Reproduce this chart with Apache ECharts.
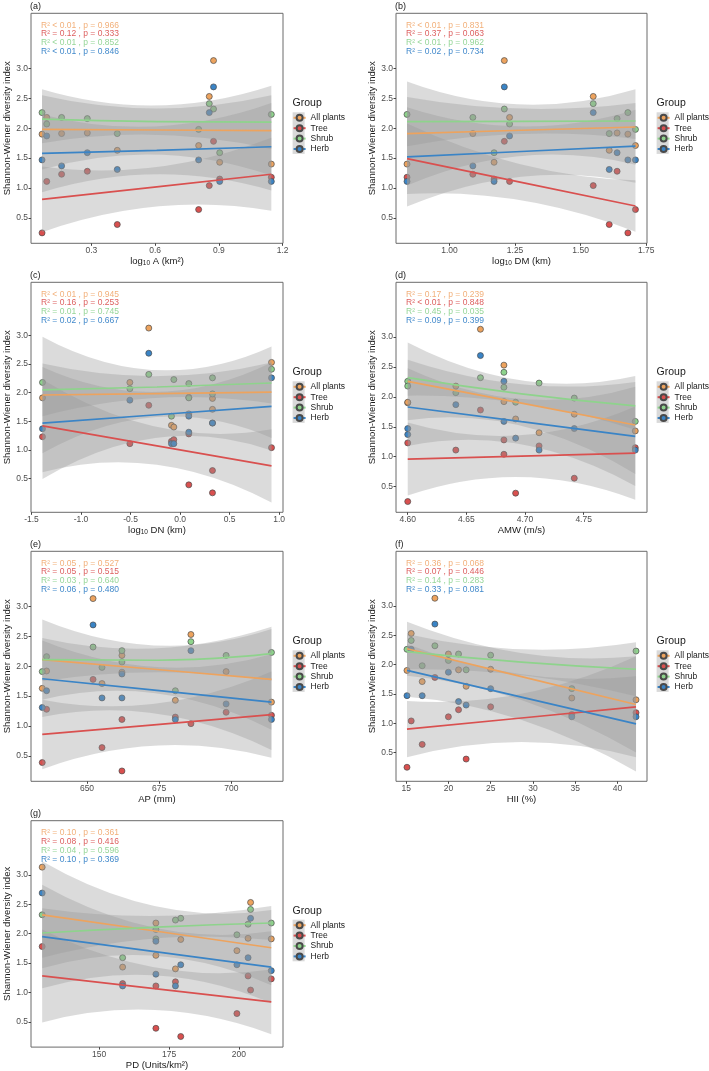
<!DOCTYPE html>
<html>
<head>
<meta charset="utf-8">
<script src="https://cdn.jsdelivr.net/npm/echarts@6/dist/echarts.min.js"></script>
<style>
  html, body { margin: 0; padding: 0; background: #fff; }
  #chart { width: 709px; height: 1071px; }
</style>
</head>
<body>
<div id="chart"></div>
<script>
// groups, in the order ggplot draws them
const groups = ['All plants', 'Tree', 'Shrub', 'Herb']
const groupColors = ['#EDA35E', '#D9504F', '#8ED38C', '#3A84C6']
const statColors = ['#F2B07A', '#DD5F5F', '#96D698', '#4189CB']

// Shannon-Wiener index of the 10 sites (same sites in every panel)
const allPlants = [1.90, 2.18, 1.91, 1.92, 1.63, 1.71, 2.53, 3.13, 1.43, 1.40]
const tree = [0.25, 1.11, 1.23, 1.28, 0.39, 0.64, 1.04, 1.78, 1.15, 1.18]
const shrub = [2.26, 2.07, 2.18, 2.16, 1.91, 1.98, 2.41, 2.32, 1.59, 2.23]
const herb = [1.47, 1.87, 1.37, 1.59, 1.31, 1.47, 2.26, 2.69, 1.11, 1.11]

// predictor value of each site, one array per panel
const xA = [0.068, 0.090, 0.160, 0.281, 0.422, 0.805, 0.855, 0.875, 0.904, 1.147]
const xB = [1.680, 1.229, 1.089, 1.639, 1.609, 1.709, 1.548, 1.209, 1.170, 0.838]
const xC = [0.327, -0.507, -1.389, 0.088, 0.088, 0.327, 0.923, -0.316, -0.087, -0.063]
const xD = [4.600, 4.641, 4.600, 4.682, 4.692, 4.742, 4.682, 4.662, 4.794, 4.712]
const xE = [662.1, 662.1, 698.2, 636.0, 634.5, 655.2, 686.0, 652.1, 680.6, 713.9]
const xF = [15.1, 20.0, 21.2, 25.0, 22.1, 16.9, 15.6, 18.4, 34.6, 42.2]
const xG = [179.2, 170.3, 211.6, 203.3, 170.3, 199.3, 204.2, 129.6, 158.4, 177.3]

// fitted line, lower and upper band at left / middle / right of the data range
// rows: All plants, Tree, Shrub, Herb
const fitA = [[1.98, 1.97, 1.96], [0.81, 1.02, 1.23], [2.15, 2.11, 2.10], [1.58, 1.63, 1.69]]
const loA = [[1.31, 1.56, 1.21], [0.26, 0.69, 0.62], [1.75, 1.89, 1.65], [0.93, 1.23, 0.96]]
const hiA = [[2.65, 2.38, 2.71], [1.36, 1.35, 1.84], [2.55, 2.33, 2.55], [2.23, 2.03, 2.42]]

const fitB = [[1.91, 1.965, 2.02], [1.49, 1.095, 0.70], [2.11, 2.115, 2.12], [1.52, 1.61, 1.70]]
const loB = [[1.04, 1.535, 1.39], [0.90, 0.795, 0.27], [1.70, 1.905, 1.82], [0.69, 1.19, 1.09]]
const hiB = [[2.78, 2.395, 2.65], [2.08, 1.395, 1.13], [2.52, 2.325, 2.42], [2.35, 2.03, 2.31]]

const fitC = [[1.96, 1.985, 2.01], [1.42, 1.07, 0.72], [2.05, 2.10, 2.17], [1.47, 1.615, 1.76]]
const loC = [[0.94, 1.575, 1.21], [0.61, 0.74, 0.08], [1.59, 1.91, 1.81], [0.49, 1.215, 0.99]]
const hiC = [[2.98, 2.395, 2.81], [2.23, 1.40, 1.36], [2.51, 2.29, 2.53], [2.45, 2.015, 2.53]]

const fitD = [[2.26, 1.895, 1.53], [0.96, 1.01, 1.06], [2.32, 2.05, 1.85], [1.83, 1.585, 1.34]]
const loD = [[1.61, 1.515, 0.71], [0.35, 0.66, 0.28], [2.02, 1.89, 1.45], [1.18, 1.205, 0.51]]
const hiD = [[2.91, 2.275, 2.35], [1.57, 1.36, 1.84], [2.62, 2.21, 2.25], [2.48, 1.965, 2.17]]

const fitE = [[2.11, 1.945, 1.78], [0.86, 1.025, 1.19], [2.11, 2.10, 2.21], [1.79, 1.595, 1.40]]
const loE = [[1.44, 1.545, 0.94], [0.28, 0.675, 0.47], [1.75, 1.90, 1.76], [1.15, 1.205, 0.60]]
const hiE = [[2.78, 2.345, 2.62], [1.44, 1.375, 1.91], [2.47, 2.30, 2.66], [2.43, 1.985, 2.20]]

const fitF = [[2.27, 1.795, 1.32], [0.90, 1.09, 1.28], [2.22, 2.04, 1.92], [1.90, 1.445, 0.99]]
const loF = [[1.81, 1.395, 0.50], [0.42, 0.68, 0.42], [1.92, 1.82, 1.46], [1.45, 1.055, 0.18]]
const hiF = [[2.73, 2.195, 2.14], [1.38, 1.50, 2.14], [2.52, 2.26, 2.38], [2.35, 1.835, 1.80]]

const fitG = [[2.32, 2.04, 1.76], [1.28, 1.06, 0.84], [2.01, 2.11, 2.18], [1.95, 1.69, 1.43]]
const loG = [[1.41, 1.62, 1.12], [0.49, 0.70, 0.29], [1.59, 1.92, 1.89], [1.07, 1.29, 0.82]]
const hiG = [[3.23, 2.46, 2.40], [2.07, 1.42, 1.39], [2.43, 2.30, 2.47], [2.83, 2.09, 2.04]]

// R2 / p labels
const statA = ['R² < 0.01 , p = 0.966', 'R² = 0.12 , p = 0.333', 'R² < 0.01 , p = 0.852', 'R² < 0.01 , p = 0.846']
const statB = ['R² < 0.01 , p = 0.831', 'R² = 0.37 , p = 0.063', 'R² < 0.01 , p = 0.962', 'R² = 0.02 , p = 0.734']
const statC = ['R² < 0.01 , p = 0.945', 'R² = 0.16 , p = 0.253', 'R² = 0.01 , p = 0.745', 'R² = 0.02 , p = 0.667']
const statD = ['R² = 0.17 , p = 0.239', 'R² < 0.01 , p = 0.848', 'R² = 0.45 , p = 0.035', 'R² = 0.09 , p = 0.399']
const statE = ['R² = 0.05 , p = 0.527', 'R² = 0.05 , p = 0.515', 'R² = 0.03 , p = 0.640', 'R² = 0.06 , p = 0.480']
const statF = ['R² = 0.36 , p = 0.068', 'R² = 0.07 , p = 0.446', 'R² = 0.14 , p = 0.283', 'R² = 0.33 , p = 0.081']
const statG = ['R² = 0.10 , p = 0.361', 'R² = 0.08 , p = 0.416', 'R² = 0.04 , p = 0.596', 'R² = 0.10 , p = 0.369']

// tick labels
const yTicks = [0.5, 1.0, 1.5, 2.0, 2.5, 3.0]
const ticksA = [0.3, 0.6, 0.9, 1.2]
const ticksB = [1.00, 1.25, 1.50, 1.75]
const ticksC = [-1.5, -1.0, -0.5, 0.0, 0.5, 1.0]
const ticksD = [4.60, 4.65, 4.70, 4.75]
const ticksE = [650, 675, 700]
const ticksF = [15, 20, 25, 30, 35, 40]
const ticksG = [150, 175, 200]

const siteValues = [allPlants, tree, shrub, herb]
const font = 'Liberation Sans, Arial, Helvetica, sans-serif'

const panels = [
  { tag: '(a)', x: xA, fit: fitA, lo: loA, hi: hiA, stat: statA, ticks: ticksA, dec: 1, name: 'log{s|10} A (km²)', xMin: 0.016, xMax: 1.202, yMin: 0.076, yMax: 3.92 },
  { tag: '(b)', x: xB, fit: fitB, lo: loB, hi: hiB, stat: statB, ticks: ticksB, dec: 2, name: 'log{s|10} DM (km)', xMin: 0.796, xMax: 1.753, yMin: 0.076, yMax: 3.92 },
  { tag: '(c)', x: xC, fit: fitC, lo: loC, hi: hiC, stat: statC, ticks: ticksC, dec: 1, name: 'log{s|10} DN (km)', xMin: -1.505, xMax: 1.039, yMin: -0.09, yMax: 3.93 },
  { tag: '(d)', x: xD, fit: fitD, lo: loD, hi: hiD, stat: statD, ticks: ticksD, dec: 2, name: 'AMW (m/s)', xMin: 4.590, xMax: 4.804, yMin: 0.07, yMax: 3.915 },
  { tag: '(e)', x: xE, fit: fitE, lo: loE, hi: hiE, stat: statE, ticks: ticksE, dec: 0, name: 'AP (mm)', xMin: 630.6, xMax: 717.9, yMin: 0.077, yMax: 3.92 },
  { tag: '(f)', x: xF, fit: fitF, lo: loF, hi: hiF, stat: statF, ticks: ticksF, dec: 0, name: 'HII (%)', xMin: 13.8, xMax: 43.5, yMin: 0.011, yMax: 3.93 },
  { tag: '(g)', x: xG, fit: fitG, lo: loG, hi: hiG, stat: statG, ticks: ticksG, dec: 0, name: 'PD (Units/km²)', xMin: 125.6, xMax: 215.8, yMin: 0.07, yMax: 3.92 }
]

const colLeft = [31, 396]
const colWidth = [252, 251]
const rowTop = [13.3, 282.3, 551.3, 820.7]
const boxHeight = 230

function bandRenderer(fx, lo, hi) {
  return function (params, api) {
    if (params.dataIndex !== 0) return null
    const up = fx.map((x, k) => api.coord([x, hi[k]]))
    const dn = fx.map((x, k) => api.coord([x, lo[k]]))
    const ctrl = (a, m, b) => [2 * m[0] - (a[0] + b[0]) / 2, 2 * m[1] - (a[1] + b[1]) / 2]
    const cu = ctrl(up[0], up[1], up[2])
    const cd = ctrl(dn[2], dn[1], dn[0])
    const d = 'M' + up[0][0] + ',' + up[0][1] +
      ' Q' + cu[0] + ',' + cu[1] + ' ' + up[2][0] + ',' + up[2][1] +
      ' L' + dn[2][0] + ',' + dn[2][1] +
      ' Q' + cd[0] + ',' + cd[1] + ' ' + dn[0][0] + ',' + dn[0][1] + ' Z'
    return { type: 'path', shape: { pathData: d }, style: { fill: 'rgba(153,153,153,0.35)' } }
  }
}

const grid = []
const xAxis = []
const yAxis = []
const series = []
const legend = []
const graphic = []

panels.forEach((p, i) => {
  const left = colLeft[i % 2]
  const width = colWidth[i % 2]
  const top = rowTop[Math.floor(i / 2)]

  grid.push({ left: left, top: top, width: width, height: boxHeight, show: true, borderColor: '#6b6b6b', borderWidth: 1, backgroundColor: '#fff' })

  xAxis.push({
    type: 'value', gridIndex: i, min: p.xMin, max: p.xMax,
    axisLine: { show: false, onZero: false }, splitLine: { show: false },
    axisTick: { show: true, length: 2.5, customValues: p.ticks, lineStyle: { color: '#444' } },
    axisLabel: { customValues: p.ticks, margin: 3, fontSize: 8.5, fontFamily: font, color: '#4d4d4d', formatter: v => v.toFixed(p.dec) },
    name: p.name, nameLocation: 'middle', nameGap: 11,
    nameTextStyle: { fontSize: 9.5, fontFamily: font, color: '#1a1a1a', rich: { s: { fontSize: 6.5, fontFamily: font, color: '#1a1a1a', padding: [5, 0, 0, 0] } } }
  })

  yAxis.push({
    type: 'value', gridIndex: i, min: p.yMin, max: p.yMax,
    axisLine: { show: false, onZero: false }, splitLine: { show: false },
    axisTick: { show: true, length: 2.5, customValues: yTicks, lineStyle: { color: '#444' } },
    axisLabel: { customValues: yTicks, margin: 3, fontSize: 8.5, fontFamily: font, color: '#4d4d4d', formatter: v => v.toFixed(1) },
    name: 'Shannon-Wiener diversity index', nameLocation: 'middle', nameGap: 19,
    nameTextStyle: { fontSize: 9.5, fontFamily: font, color: '#1a1a1a' }
  })

  // points first, under the bands
  groups.forEach((g, gi) => {
    series.push({
      type: 'scatter', name: g + ' points', xAxisIndex: i, yAxisIndex: i, z: 1,
      data: p.x.map((x, k) => [x, siteValues[gi][k]]),
      symbolSize: 6, silent: true,
      itemStyle: { color: groupColors[gi], borderColor: '#4a4a4a', borderWidth: 0.7, opacity: 1 }
    })
  })

  // then band + fitted line for each group
  const xmin = Math.min(...p.x)
  const xmax = Math.max(...p.x)
  const fx = [xmin, (xmin + xmax) / 2, xmax]
  groups.forEach((g, gi) => {
    series.push({
      type: 'custom', name: g + ' band', xAxisIndex: i, yAxisIndex: i, silent: true, z: 2,
      data: fx.map((x, k) => [x, p.lo[gi][k], p.hi[gi][k]]),
      renderItem: bandRenderer(fx, p.lo[gi], p.hi[gi])
    })
    series.push({
      type: 'line', name: g, xAxisIndex: i, yAxisIndex: i, silent: true, z: 2,
      data: fx.map((x, k) => [x, p.fit[gi][k]]),
      smooth: true, showSymbol: false, symbol: 'circle', symbolSize: 6,
      lineStyle: { color: groupColors[gi], width: 1.7 },
      itemStyle: { color: groupColors[gi], borderColor: '#4a4a4a', borderWidth: 0.7 }
    })
  })

  // legend
  const lx = left + width + 9.6
  legend.push({
    left: lx, top: top + 99.5, orient: 'vertical', selectedMode: false, padding: 0,
    itemWidth: 12, itemHeight: 7.5, itemGap: 0.4,
    data: groups,
    textStyle: { fontSize: 8.5, fontFamily: font, color: '#1a1a1a', lineHeight: 10 }
  })
  graphic.push({ type: 'rect', left: lx, top: top + 99, shape: { width: 12, height: 41.6 }, style: { fill: '#D9D9D9' } })
  graphic.push({ type: 'text', left: lx, top: top + 84.5, style: { text: 'Group', fontSize: 10.5, fontFamily: font, fill: '#1a1a1a' } })

  // panel tag
  graphic.push({ type: 'text', left: left - 1, top: top - 11.5, style: { text: p.tag, fontSize: 9, fontFamily: font, fill: '#1a1a1a' } })

  // statistics
  p.stat.forEach((s, si) => {
    graphic.push({ type: 'text', left: left + 10, top: top + 7.4 + si * 8.9, style: { text: s, fontSize: 8.5, fontFamily: font, fill: statColors[si] } })
  })
})

const chart = echarts.init(document.getElementById('chart'), null, { renderer: 'canvas' })
chart.setOption({
  backgroundColor: '#fff',
  animation: false,
  textStyle: { fontFamily: font },
  grid: grid,
  xAxis: xAxis,
  yAxis: yAxis,
  legend: legend,
  graphic: graphic,
  series: series
})
</script>
</body>
</html>
